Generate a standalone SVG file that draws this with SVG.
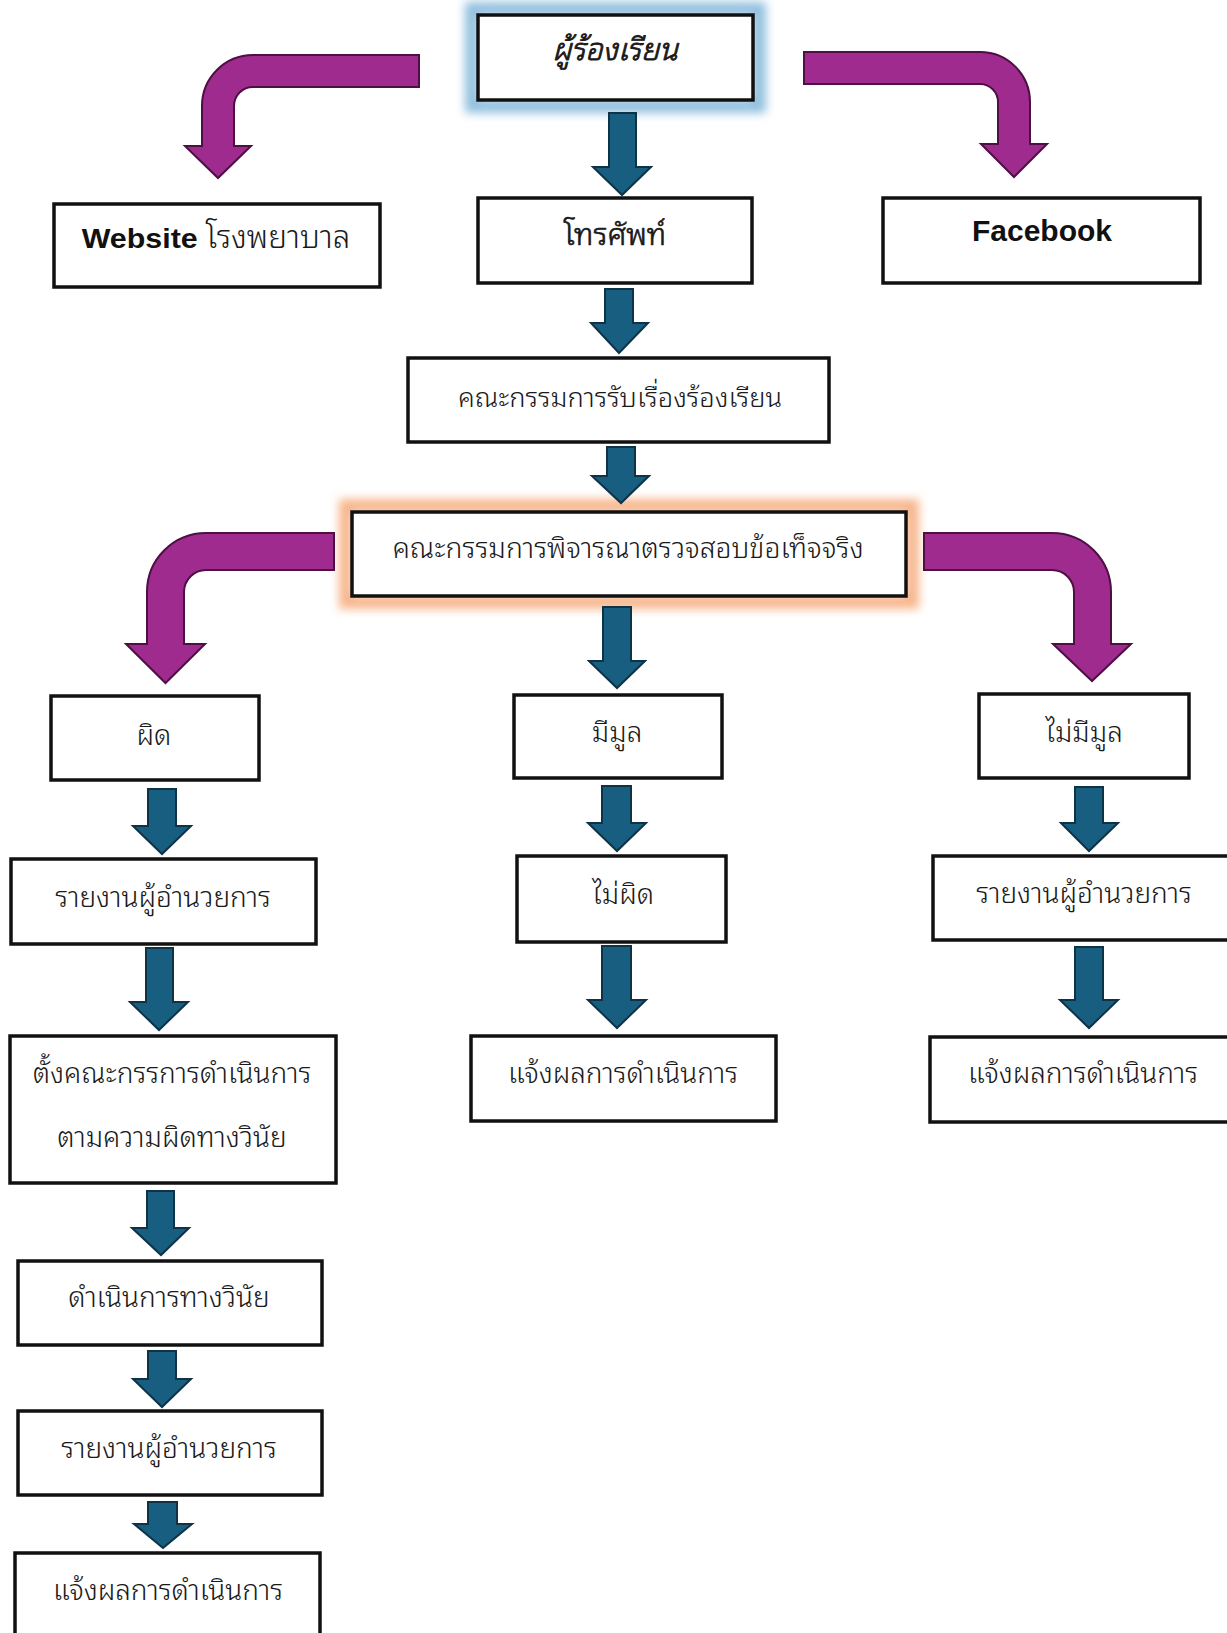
<svg xmlns="http://www.w3.org/2000/svg" width="1227" height="1633" viewBox="0 0 1227 1633">
<defs>
<style>
.box{fill:#fff;stroke:#111;stroke-width:3.5}
.t{font-family:"Noto Sans Thai Looped","Noto Sans Thai","Leelawadee UI",Tahoma,"DejaVu Sans",sans-serif;font-size:28px;font-weight:300;fill:#1a1a1a;text-anchor:middle}
.b{stroke:#1a1a1a;stroke-width:0.9;stroke-linejoin:round}
.lat{font-family:"Liberation Sans",Arial,sans-serif;font-weight:bold;fill:#111}
.blue{fill:#175e80;stroke:#0e3347;stroke-width:2}
.purple{fill:#9f2b8e;stroke:#4e0f45;stroke-width:2}
</style>
<filter id="glow" x="-20%" y="-40%" width="140%" height="180%">
<feGaussianBlur stdDeviation="5"/>
</filter>
</defs>
<rect width="1227" height="1633" fill="#fff"/>
<g id="n1">
<rect x="472" y="9" width="287" height="97" fill="none" stroke="#92c0df" stroke-width="14" filter="url(#glow)"/>
<rect class="box" x="478" y="15" width="275" height="85"/>
<text class="t b" x="615" y="60" style="font-size:30.5px;font-style:italic">ผู้ร้องเรียน</text>
</g>
<g id="n2">
<rect class="box" x="478" y="198" width="274" height="85"/>
<text class="t b" x="615" y="245" style="font-size:30.5px;stroke-width:0.7">โทรศัพท์</text>
</g>
<g id="n3">
<rect class="box" x="54" y="204" width="326" height="83" stroke-width="3"/>
<text class="t" x="216" y="248" style="font-size:31.5px"><tspan class="lat" style="font-size:28px" textLength="116" lengthAdjust="spacingAndGlyphs">Website</tspan> โรงพยาบาล</text>
</g>
<g id="n4">
<rect class="box" x="883" y="198" width="317" height="85"/>
<text class="lat" x="972" y="241" font-size="30" textLength="140" lengthAdjust="spacingAndGlyphs">Facebook</text>
</g>
<g id="n5">
<rect class="box" x="408" y="358" width="421" height="84"/>
<text class="t" x="620" y="407" style="font-size:27.3px">คณะกรรมการรับเรื่องร้องเรียน</text>
</g>
<g id="n6">
<rect x="346" y="506" width="566" height="96" fill="none" stroke="#f7b68c" stroke-width="14" filter="url(#glow)"/>
<rect class="box" x="352" y="512" width="554" height="84"/>
<text class="t" x="628" y="558" style="font-size:28.3px">คณะกรรมการพิจารณาตรวจสอบข้อเท็จจริง</text>
</g>
<g id="n7">
<rect class="box" x="51" y="696" width="208" height="84"/>
<text class="t" x="154" y="745">ผิด</text>
</g>
<g id="n8">
<rect class="box" x="514" y="695" width="208" height="83"/>
<text class="t" x="617" y="742">มีมูล</text>
</g>
<g id="n9">
<rect class="box" x="979" y="694" width="210" height="84"/>
<text class="t" x="1084" y="742">ไม่มีมูล</text>
</g>
<g id="n10">
<rect class="box" x="11" y="859" width="305" height="85"/>
<text class="t" x="163" y="907">รายงานผู้อำนวยการ</text>
</g>
<g id="n11">
<rect class="box" x="517" y="856" width="209" height="86"/>
<text class="t" x="623" y="904">ไม่ผิด</text>
</g>
<g id="n12">
<rect class="box" x="933" y="856" width="305" height="84"/>
<text class="t" x="1084" y="903">รายงานผู้อำนวยการ</text>
</g>
<g id="n13">
<rect class="box" x="10" y="1036" width="326" height="147"/>
<text class="t" x="172" y="1083">ตั้งคณะกรรการดำเนินการ</text>
<text class="t" x="172" y="1147">ตามความผิดทางวินัย</text>
</g>
<g id="n14">
<rect class="box" x="471" y="1036" width="305" height="85"/>
<text class="t" x="623" y="1083">แจ้งผลการดำเนินการ</text>
</g>
<g id="n15">
<rect class="box" x="930" y="1037" width="305" height="85"/>
<text class="t" x="1083" y="1083">แจ้งผลการดำเนินการ</text>
</g>
<g id="n16">
<rect class="box" x="18" y="1261" width="304" height="84"/>
<text class="t" x="169" y="1307">ดำเนินการทางวินัย</text>
</g>
<g id="n17">
<rect class="box" x="18" y="1411" width="304" height="84"/>
<text class="t" x="169" y="1458">รายงานผู้อำนวยการ</text>
</g>
<g id="n18">
<rect class="box" x="15" y="1553" width="305" height="95"/>
<text class="t" x="168" y="1600">แจ้งผลการดำเนินการ</text>
</g>
<g id="connectors">
<path class="purple" d="M419,55 L253,55 A51,51 0 0 0 202,106 L202,146 L185,146 L218,178 L251,146 L234,146 L234,106 A19,19 0 0 1 253,87 L419,87 Z"/>
<path class="purple" d="M804,52 L980,52 A50,50 0 0 1 1030,102 L1030,144 L1047,144 L1014,177 L981,144 L998,144 L998,102 A18,18 0 0 0 980,84 L804,84 Z"/>
<path class="purple" d="M334,533 L206,533 A59,59 0 0 0 147,592 L147,644 L126,644 L165.5,683 L205,644 L184,644 L184,592 A22,22 0 0 1 206,570 L334,570 Z"/>
<path class="purple" d="M924,533 L1052,533 A59,59 0 0 1 1111,592 L1111,644 L1131,644 L1092,681 L1053,644 L1074,644 L1074,592 A22,22 0 0 0 1052,570 L924,570 Z"/>
<path class="blue" d="M609,113 L636,113 L636,167 L651,167 L622,195 L593,167 L609,167 Z"/>
<path class="blue" d="M605,289 L633,289 L633,323 L648,323 L619,353 L591,323 L605,323 Z"/>
<path class="blue" d="M607,447 L635,447 L635,476 L649,476 L621,503 L592,476 L607,476 Z"/>
<path class="blue" d="M603,607 L631,607 L631,661 L645,661 L617,688 L589,661 L603,661 Z"/>
<path class="blue" d="M148,789 L176,789 L176,826 L191,826 L162,854 L133,826 L148,826 Z"/>
<path class="blue" d="M146,948 L173,948 L173,1002 L188,1002 L159,1030 L130,1002 L146,1002 Z"/>
<path class="blue" d="M147,1191 L174,1191 L174,1228 L189,1228 L161,1255 L132,1228 L147,1228 Z"/>
<path class="blue" d="M148,1351 L176,1351 L176,1379 L191,1379 L162,1407 L133,1379 L148,1379 Z"/>
<path class="blue" d="M148,1502 L177,1502 L177,1524 L192,1524 L163,1548 L134,1524 L148,1524 Z"/>
<path class="blue" d="M602,786 L631,786 L631,823 L646,823 L617,851 L588,823 L602,823 Z"/>
<path class="blue" d="M602,946 L631,946 L631,1000 L646,1000 L617,1028 L588,1000 L602,1000 Z"/>
<path class="blue" d="M1075,787 L1103,787 L1103,823 L1118,823 L1089,851 L1061,823 L1075,823 Z"/>
<path class="blue" d="M1075,947 L1103,947 L1103,1000 L1118,1000 L1089,1028 L1060,1000 L1075,1000 Z"/>
</g>
</svg>
